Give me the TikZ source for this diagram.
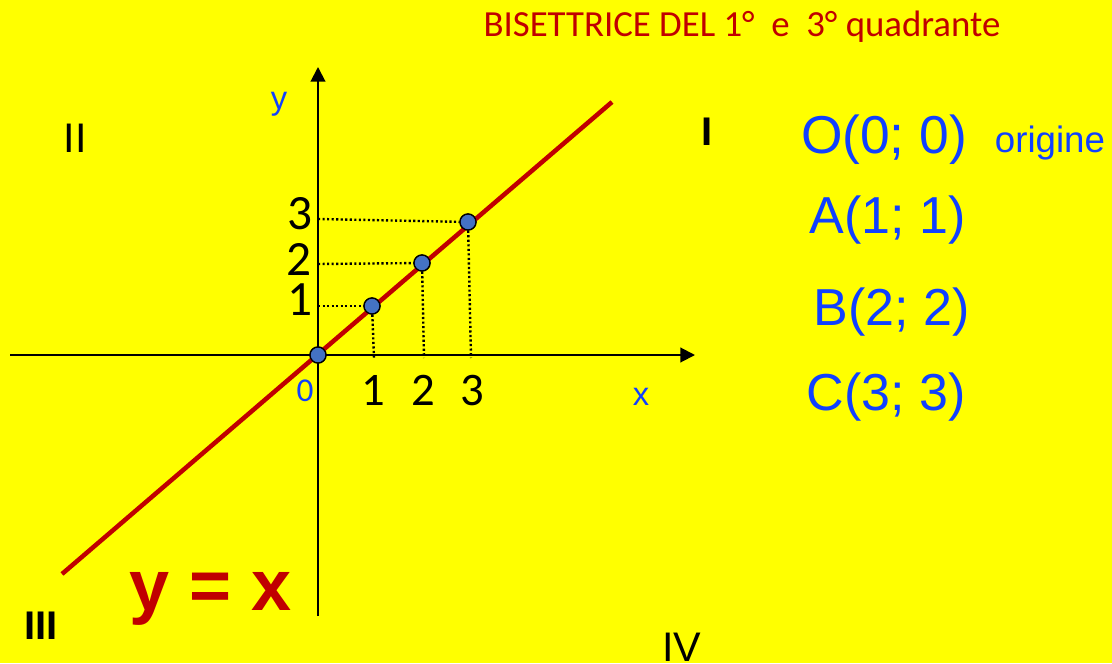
\documentclass[tikz,border=0pt]{standalone}
\usepackage{fontspec}
\setmainfont{Liberation Sans}
\newfontfamily\calibri{Carlito}
\usetikzlibrary{arrows.meta,positioning}
\definecolor{bgyellow}{RGB}{255,255,0}
\definecolor{darkred}{RGB}{192,0,0}
\definecolor{txtblue}{RGB}{16,64,255}
\definecolor{dotblue}{RGB}{68,114,196}

\begin{document}
\begin{tikzpicture}[x=0.75pt, y=-0.75pt,
    axis/.style={line width=1.5pt, -{Triangle[length=11pt, width=11pt]}},
    guide/.style={line width=1.8pt, dash pattern=on 1.6pt off 1.8pt},
    bis/.style={line width=3.4pt, darkred},
    pt/.style={circle, draw, line width=1pt, fill=dotblue, inner sep=0pt, minimum size=12pt},
    num/.style={anchor=base, inner sep=0pt, text height=0.64em, text depth=0pt, font=\calibri\fontsize{37}{37}\selectfont},
    quad/.style={anchor=base, inner sep=0pt, font=\fontsize{31}{31}\selectfont},
    coordlbl/.style={anchor=base, inner sep=0pt, text=txtblue, font=\fontsize{39}{39}\selectfont}
]
\fill[bgyellow] (0,0) rectangle (1112,663);

% assi
\coordinate (xs) at (10,355);
\coordinate (xe) at (695,355);
\coordinate (ys) at (318,616);
\coordinate (ye) at (318,67);
\draw[axis] (xs) -- (xe);
\draw[axis] (ys) -- (ye);

% punti
\node[pt] (O) at (318,355) {};
\node[pt] (A) at (372,306) {};
\node[pt] (B) at (422,263) {};
\node[pt] (C) at (468,222) {};

% proiezioni
\coordinate (ya) at (318,306);
\coordinate (yb) at (318,264);
\coordinate (yc) at (318,219);
\coordinate (xa) at (374,358);
\coordinate (xb) at (424,358);
\coordinate (xc) at (471,358);
\draw[guide] (ya) -- (A);
\draw[guide] (yb) -- (B);
\draw[guide] (yc) -- (C);
\draw[guide] (A) -- (xa);
\draw[guide] (B) -- (xb);
\draw[guide] (C) -- (xc);

% bisettrice
\coordinate (lo) at (62,574);
\coordinate (hi) at (612,102);
\draw[bis] (lo) -- (hi);
\node[pt] at (O) {};
\node[pt] at (A) {};
\node[pt] at (B) {};
\node[pt] at (C) {};

% etichette assi
\node[num] (ny1) at (300,315) {1};
\node[num] (ny2) at (299,275) {2};
\node[num] (ny3) at (300,229) {3};
\node[num, font=\calibri\fontsize{35}{35}\selectfont] (nx1) at (373,405) {1};
\node[num, font=\calibri\fontsize{35}{35}\selectfont] (nx2) at (423,405) {2};
\node[num, font=\calibri\fontsize{35}{35}\selectfont] (nx3) at (472,405) {3};
\node[anchor=base, inner sep=0pt, text=txtblue, font=\calibri\fontsize{25}{25}\selectfont] (n0) at (305,401) {0};
\node[anchor=base, inner sep=0pt, text=txtblue, font=\fontsize{24.5}{24.5}\selectfont] (lx) at (641,405) {x};
\node[anchor=base, inner sep=0pt, text=txtblue, font=\fontsize{24.5}{24.5}\selectfont] (ly) at (279,110) {y};

% quadranti
\node[quad] (q2) at (75,152) {II};
\node[quad, font=\bfseries\fontsize{30}{30}\selectfont] (q1) at (707,146) {I};
\node[quad, font=\bfseries\fontsize{30}{30}\selectfont] (q3) at (41,639) {III};
\node[quad, text depth=0pt] (q4) at (682,661) {IV};

% titolo e testi
\node[anchor=base, inner sep=0pt, text=darkred, font=\calibri\fontsize{27.6}{27.6}\selectfont] (title) at (742,37) {BISETTRICE DEL 1°\ \ e\ \ 3° quadrante};
\node[anchor=base, inner sep=0pt, text=darkred, font=\bfseries\fontsize{54}{54}\selectfont] (eq) at (211,610) {y = x};
\node[coordlbl, font=\fontsize{40}{40}\selectfont] (lO) at (884,153) {O(0; 0)};
\node[anchor=base, inner sep=0pt, text=txtblue, font=\fontsize{27.5}{27.5}\selectfont] (orig) at (1050,152) {origine};
\node[coordlbl] (lA) at (888,233) {A(1; 1)};
\node[coordlbl] (lB) at (892,325) {B(2; 2)};
\node[coordlbl] (lC) at (886,410) {C(3; 3)};
\end{tikzpicture}
\end{document}
